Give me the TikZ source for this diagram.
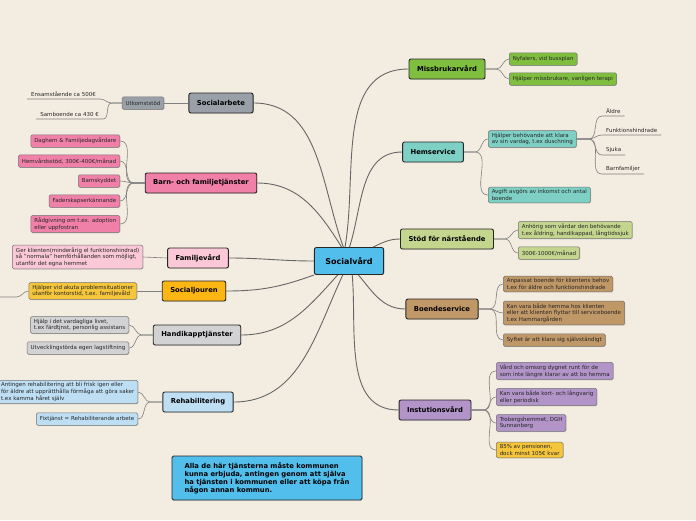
\documentclass[tikz,border=0pt]{standalone}
\usepackage{fontspec}
\setmainfont{DejaVu Sans}
\usetikzlibrary{shadows}
\definecolor{bg}{RGB}{243,237,225}
\definecolor{cblue}{RGB}{82,190,236}
\definecolor{cgray}{RGB}{154,160,168}
\definecolor{cpink}{RGB}{240,128,168}
\definecolor{cpale}{RGB}{250,200,214}
\definecolor{corange}{RGB}{252,182,20}
\definecolor{cyellow}{RGB}{245,198,60}
\definecolor{clgray}{RGB}{210,210,212}
\definecolor{clblue}{RGB}{190,222,244}
\definecolor{cgreen}{RGB}{128,190,64}
\definecolor{cteal}{RGB}{126,208,196}
\definecolor{colive}{RGB}{196,214,142}
\definecolor{ctan}{RGB}{192,152,104}
\definecolor{cpurple}{RGB}{178,148,200}

\begin{document}
\begin{tikzpicture}[x=1pt,y=-1pt,
  shade/.style={drop shadow={shadow xshift=0.7pt,shadow yshift=-0.7pt,opacity=0.3}},
  topic/.style={shade,draw=black!85,line width=0.9pt,rounded corners=2pt,inner xsep=8pt,inner ysep=0pt,minimum height=20pt,font=\fontsize{6.8}{8}\selectfont\bfseries},
  leaf/.style={shade,draw=black!55,line width=0.5pt,rounded corners=1.5pt,inner xsep=3.5pt,inner ysep=2.3pt,minimum height=12.5pt,align=left,font=\fontsize{5.5}{6.7}\selectfont,text=black!85},
  plain/.style={inner xsep=4pt,inner ysep=2pt,font=\fontsize{5.5}{6.7}\selectfont,text=black!85},
  link/.style={draw=black!50,line width=0.6pt},
  trunk/.style={draw=black!60,line width=0.9pt}]
  \path[use as bounding box,fill=bg] (0,0) rectangle (696,520);

  % centre
  \node[topic,fill=cblue,inner xsep=11pt,minimum height=27pt,font=\fontsize{8}{9}\selectfont\bfseries] (sv) at (349,261) {Socialvård};

  % left topics
  \node[topic,fill=cgray] (sa) at (221,103) {Socialarbete};
  \node[topic,fill=cpink] (bf) at (201,183) {Barn- och familjetjänster};
  \node[topic,fill=cpale] (fv) at (198,258) {Familjevård};
  \node[topic,fill=corange] (sj) at (194,291) {Socialjouren};
  \node[topic,fill=clgray] (ht) at (197,335) {Handikapptjänster};
  \node[topic,fill=clblue] (rh) at (198,402) {Rehabilitering};
  % right topics
  \node[topic,fill=cgreen] (mv) at (447,69) {Missbrukarvård};
  \node[topic,fill=cteal] (hs) at (433,152) {Hemservice};
  \node[topic,fill=colive] (sn) at (447,239) {Stöd för närstående};
  \node[topic,fill=ctan] (bs) at (442,309) {Boendeservice};
  \node[topic,fill=cpurple] (iv) at (435,410) {Instutionsvård};

  \draw[trunk] (sv.112) to[out=110,in=0] (sa.east);
  \draw[trunk] (sv.118) to[out=122,in=0] (bf.east);
  \draw[trunk] (sv.west) to[out=180,in=0] (fv.east);
  \draw[trunk] (sv.south west) to[out=200,in=0] (sj.east);
  \draw[trunk] (sv.231) to[out=228,in=0] (ht.east);
  \draw[trunk] (sv.246) to[out=245,in=0] (rh.east);
  \draw[trunk] (sv.106) to[out=80,in=180] (mv.west);
  \draw[trunk] (sv.88) to[out=72,in=180] (hs.west);
  \draw[trunk] (sv.30) to[out=25,in=180] (sn.west);
  \draw[trunk] (sv.-56) to[out=-50,in=180] (bs.west);
  \draw[trunk] (sv.-77) to[out=-85,in=180] (iv.west);

  % Socialarbete
  \node[leaf,fill=cgray] (uk) at (143,103) {Utkomststöd};
  \draw[link] (sa.west) -- (uk.east);
  \node[plain,anchor=south east] (uk1) at (100,99) {Ensamstående ca 500€};
  \node[plain,anchor=south east] (uk2) at (103,119) {Samboende ca 430 €};
  \foreach \k in {1,2} { \draw[link] (uk.west) -- ++(-10,0) to[out=180,in=0] (uk\k.south east) -- (uk\k.south west); }

  % Barn- och familjetjänster
  \foreach \k/\y/\t in {1/141/{Daghem \& Familjedagvårdare},2/161/{Hemvårdsstöd, 300€-400€/månad},3/181/{Barnskyddet},4/201/{Faderskapserkännande},5/224/{Rådgivning om t.ex. adoption\\eller uppfostran}} {
    \node[leaf,fill=cpink,anchor=east] (bf\k) at (120,\y) {\t};
    \draw[link] (bf.west) -- ++(-11,0) to[out=180,in=0] (bf\k.east);
  }

  % Familjevård, Socialjouren
  \node[leaf,fill=cpale,anchor=east] (fv1) at (143,257) {Ger klienten(minderårig el funktionshindrad)\\så "normala" hemförhållanden som möjligt,\\utanför det egna hemmet};
  \draw[link] (fv.west) -- (fv1.east);
  \node[leaf,fill=cyellow,anchor=east] (sj1) at (137,291) {Hjälper vid akuta problemsituationer\\utanför kontorstid, t.ex. familjevåld};
  \draw[link] (sj.west) -- (sj1.east);
  \coordinate (sjx) at (0,297);
  \draw[link] (sj1.west) to[out=180,in=0] ++(-12,6) -- (sjx);

  % Handikapptjänster
  \foreach \k/\y/\t in {1/325/{Hjälp i det vardagliga livet,\\t.ex färdtjnst, personlig assistans},2/348/{Utvecklingstörda egen lagstiftning}} {
    \node[leaf,fill=clgray,anchor=east] (ht\k) at (129,\y) {\t};
    \draw[link] (ht.west) -- ++(-11,0) to[out=180,in=0] (ht\k.east);
  }

  % Rehabilitering
  \foreach \k/\y/\t in {1/392/{Antingen rehabilitering att bli frisk igen eller\\för äldre att upprätthålla förmåga att göra saker\\t.ex kamma håret själv},2/419/{Fixtjänst = Rehabiliterande arbete}} {
    \node[leaf,fill=clblue,anchor=east] (rh\k) at (138,\y) {\t};
    \draw[link] (rh.west) -- ++(-12,0) to[out=180,in=0] (rh\k.east);
  }

  % Missbrukarvård
  \foreach \k/\y/\t in {1/59/{Nyfalers, vid bussplan},2/79/{Hjälper missbrukare, vanligen terapi}} {
    \node[leaf,fill=cgreen,anchor=west] (mv\k) at (509,\y) {\t};
    \draw[link] (mv.east) -- ++(11,0) to[out=0,in=180] (mv\k.west);
  }

  % Hemservice
  \foreach \k/\y/\t in {1/139/{Hjälper behövande att klara\\av sin vardag, t.ex duschning},2/195/{Avgift avgörs av inkomst och antal\\boende}} {
    \node[leaf,fill=cteal,anchor=west] (hs\k) at (488,\y) {\t};
    \draw[link] (hs.east) -- ++(11,0) to[out=0,in=180] (hs\k.west);
  }
  \foreach \k/\y/\t in {1/116/{Äldre},2/135/{Funktionshindrade},3/155/{Sjuka},4/174/{Barnfamiljer}} {
    \node[plain,anchor=south west] (g\k) at (602,\y) {\t};
    \draw[link] (hs1.east) -- ++(12,0) to[out=0,in=180] (g\k.south west) -- (g\k.south east);
  }

  % Stöd för närstående
  \foreach \k/\y/\t in {1/230/{Anhörig som vårdar den behövande\\t.ex åldring, handikappad, långtidssjuk},2/253/{300€-1000€/månad}} {
    \node[leaf,fill=colive,anchor=west] (sn\k) at (518,\y) {\t};
    \draw[link] (sn.east) -- ++(11,0) to[out=0,in=180] (sn\k.west);
  }

  % Boendeservice
  \foreach \k/\y/\t in {1/284/{Anpassat boende för klientens behov\\t.ex för äldre och funktionshindrade},2/313/{Kan vara både hemma hos klienten\\eller att klienten flyttar till serviceboende\\t.ex Hammargården},3/340/{Syftet är att klara sig självständigt}} {
    \node[leaf,fill=ctan,anchor=west] (bs\k) at (503,\y) {\t};
    \draw[link] (bs.east) -- ++(11,0) to[out=0,in=180] (bs\k.west);
  }

  % Instutionsvård
  \foreach \k/\y/\c/\t in {1/371/cpurple/{Vård och omsorg dygnet runt för de\\som inte längre klarar av att bo hemma},2/397/cpurple/{Kan vara både kort- och långvarig\\eller periodisk},3/423/cpurple/{Trobergshemmet, DGH\\Sunnanberg},4/450/cyellow/{85\% av pensionen,\\dock minst 105€ kvar}} {
    \node[leaf,fill=\c,anchor=west] (iv\k) at (496,\y) {\t};
    \draw[link] (iv.east) -- ++(12,0) to[out=0,in=180] (iv\k.west);
  }

  % note
  \node[shade,draw=black!85,line width=0.8pt,rounded corners=1.5pt,fill=cblue,align=left,inner xsep=8pt,minimum width=190pt,minimum height=44pt,font=\fontsize{6.8}{8}\selectfont\bfseries] (note) at (267,478) {Alla de här tjänsterna måste kommunen\\kunna erbjuda, antingen genom att själva\\ha tjänsten i kommunen eller att köpa från\\någon annan kommun.};
\end{tikzpicture}
\end{document}
